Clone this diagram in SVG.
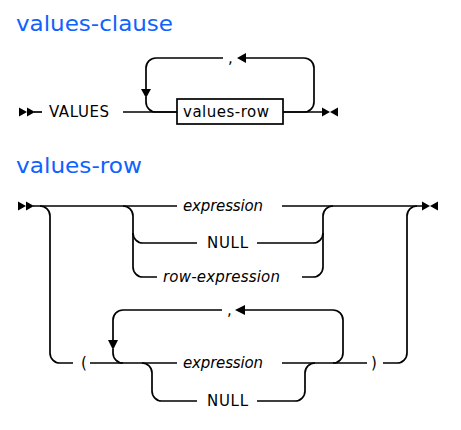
<svg xmlns="http://www.w3.org/2000/svg" width="461" height="430" viewBox="0 0 461 430">
<style>
.title{font-family:"DejaVu Sans","Liberation Sans",sans-serif;font-size:21px;fill:#0f62fe}
.t{font-family:"DejaVu Sans","Liberation Sans",sans-serif;font-size:15px;fill:#000}
.i{font-style:italic}
.ln{fill:none;stroke:#000;stroke-width:1.7}
.ar{fill:#000;stroke:none}
.box{fill:#fff;stroke:#000;stroke-width:1.7}
</style>
<rect width="461" height="430" fill="#fff"/>
<g id="title-values-clause"><text class="title" x="16" y="31" textLength="157" lengthAdjust="spacingAndGlyphs">values-clause</text></g>
<g id="title-values-row"><text class="title" x="16" y="173" textLength="126" lengthAdjust="spacingAndGlyphs">values-row</text></g>

<g id="connectors">
  <!-- diagram 1 -->
  <polygon class="ar" points="19,107.5 19,116.5 27,112"/>
  <polygon class="ar" points="27,107.5 27,116.5 35,112"/>
  <path class="ln" d="M34,112 H42"/>
  <path class="ln" d="M123,112 H177"/>
  <path class="ln" d="M283,112 H322"/>
  <path class="ln" d="M283,112 H304 A10,10 0 0 0 314,102 V68 A10,10 0 0 0 304,58 H246"/>
  <polygon class="ar" points="237,58 246,53 246,63"/>
  <path class="ln" d="M223,58 H156 A10,10 0 0 0 146,68 V89"/>
  <polygon class="ar" points="146,98 141,89 151,89"/>
  <path class="ln" d="M146,97 V102 A10,10 0 0 0 156,112 H177"/>
  <polygon class="ar" points="322,107.5 322,116.5 330,112"/>
  <polygon class="ar" points="338,107.5 338,116.5 330,112"/>

  <!-- diagram 2 -->
  <polygon class="ar" points="18,201.5 18,210.5 26,206"/>
  <polygon class="ar" points="26,201.5 26,210.5 34,206"/>
  <path class="ln" d="M33,206 H177"/>
  <path class="ln" d="M282,206 H422"/>
  <!-- outer choice -->
  <path class="ln" d="M40,206 A10,10 0 0 1 50,216 V353 A10,10 0 0 0 60,363 H73"/>
  <path class="ln" d="M383,363 H397 A10,10 0 0 0 407,353 V216 A10,10 0 0 1 417,206"/>
  <!-- inner choice 1 -->
  <path class="ln" d="M123,206 A10,10 0 0 1 133,216 V267 A10,10 0 0 0 143,277 H157"/>
  <path class="ln" d="M133,233 A10,10 0 0 0 143,243 H197"/>
  <path class="ln" d="M257,243 H313 A10,10 0 0 0 323,233"/>
  <path class="ln" d="M302,277 H313 A10,10 0 0 0 323,267 V216 A10,10 0 0 1 333,206"/>
  <!-- paren row -->
  <path class="ln" d="M90,363 H177"/>
  <path class="ln" d="M282,363 H367"/>
  <!-- repeat loop -->
  <path class="ln" d="M333,363 A10,10 0 0 0 343,353 V320 A10,10 0 0 0 333,310 H245"/>
  <polygon class="ar" points="235,310 245,305 245,315"/>
  <path class="ln" d="M222,310 H123 A10,10 0 0 0 113,320 V341"/>
  <polygon class="ar" points="113,350 108,340 118,340"/>
  <path class="ln" d="M113,349 V353 A10,10 0 0 0 123,363"/>
  <!-- inner choice 2 -->
  <path class="ln" d="M142,363 A10,10 0 0 1 152,373 V391 A10,10 0 0 0 162,401 H197"/>
  <path class="ln" d="M257,401 H295 A10,10 0 0 0 305,391 V373 A10,10 0 0 1 315,363"/>
  <polygon class="ar" points="422,201.5 422,210.5 430,206"/>
  <polygon class="ar" points="438,201.5 438,210.5 430,206"/>
</g>

<g id="kw-VALUES"><text class="t" x="49" y="117" textLength="60">VALUES</text></g>
<g id="nt-values-row"><rect class="box" x="177" y="99" width="106" height="25"/><text class="t" x="183" y="117" textLength="86">values-row</text></g>
<g id="sep-comma-1"><text class="t" x="228" y="63">,</text></g>

<g id="nt-expression-1"><text class="t i" x="183" y="211" textLength="80">expression</text></g>
<g id="kw-NULL-1"><text class="t" x="207" y="248" textLength="41">NULL</text></g>
<g id="nt-row-expression"><text class="t i" x="163" y="282" textLength="117">row-expression</text></g>
<g id="lparen"><text class="t" x="81" y="368">(</text></g>
<g id="sep-comma-2"><text class="t" x="227" y="315">,</text></g>
<g id="nt-expression-2"><text class="t i" x="183" y="368" textLength="80">expression</text></g>
<g id="rparen"><text class="t" x="371" y="368">)</text></g>
<g id="kw-NULL-2"><text class="t" x="207" y="406" textLength="41">NULL</text></g>
</svg>
